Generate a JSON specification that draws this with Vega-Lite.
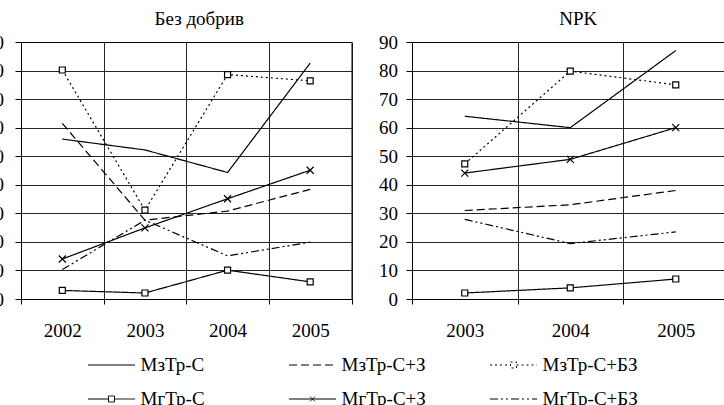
{
  "$schema": "https://vega.github.io/schema/vega-lite/v6.json",
  "autosize": {"type": "pad"},
  "padding": {"left": -16, "top": 9, "right": 0, "bottom": 0},
  "bounds": "flush",
  "spacing": 60,
  "config": {
    "font": "Liberation Serif",
    "view": {"stroke": "black", "strokeWidth": 1},
    "axis": {
      "labelFont": "Liberation Serif",
      "labelFontSize": 19,
      "labelColor": "black",
      "domainColor": "black",
      "tickColor": "black",
      "gridColor": "black",
      "gridOpacity": 0.85,
      "title": null
    },
    "legend": {
      "orient": "none", "legendX": 66.5, "legendY": 299, "columns": 3, "direction": "horizontal",
      "symbolSize": 2209, "symbolStrokeWidth": 1, "symbolStrokeColor": "black", "symbolFillColor": "white",
      "labelFont": "Liberation Serif", "labelFontSize": 19, "labelColor": "black", "labelOffset": 5, "labelLimit": 0,
      "columnPadding": 50, "rowPadding": -16.5, "gridAlign": "all"
    }
  },
  "data": {
    "values": [
      {"panel": "Без добрив", "year": "2002", "series": "МзТр-С", "value": 56},
      {"panel": "Без добрив", "year": "2003", "series": "МзТр-С", "value": 52.2},
      {"panel": "Без добрив", "year": "2004", "series": "МзТр-С", "value": 44.3},
      {"panel": "Без добрив", "year": "2005", "series": "МзТр-С", "value": 82.6},
      {"panel": "Без добрив", "year": "2002", "series": "МзТр-С+З", "value": 61.5},
      {"panel": "Без добрив", "year": "2003", "series": "МзТр-С+З", "value": 27.6},
      {"panel": "Без добрив", "year": "2004", "series": "МзТр-С+З", "value": 30.8},
      {"panel": "Без добрив", "year": "2005", "series": "МзТр-С+З", "value": 38.4},
      {"panel": "Без добрив", "year": "2002", "series": "МзТр-С+БЗ", "value": 80.2},
      {"panel": "Без добрив", "year": "2003", "series": "МзТр-С+БЗ", "value": 31.1},
      {"panel": "Без добрив", "year": "2004", "series": "МзТр-С+БЗ", "value": 78.6},
      {"panel": "Без добрив", "year": "2005", "series": "МзТр-С+БЗ", "value": 76.4},
      {"panel": "Без добрив", "year": "2002", "series": "МгТр-С", "value": 3.0},
      {"panel": "Без добрив", "year": "2003", "series": "МгТр-С", "value": 2.1},
      {"panel": "Без добрив", "year": "2004", "series": "МгТр-С", "value": 10.1},
      {"panel": "Без добрив", "year": "2005", "series": "МгТр-С", "value": 6.0},
      {"panel": "Без добрив", "year": "2002", "series": "МгТр-С+З", "value": 14.0},
      {"panel": "Без добрив", "year": "2003", "series": "МгТр-С+З", "value": 24.9},
      {"panel": "Без добрив", "year": "2004", "series": "МгТр-С+З", "value": 35.1},
      {"panel": "Без добрив", "year": "2005", "series": "МгТр-С+З", "value": 45.1},
      {"panel": "Без добрив", "year": "2002", "series": "МгТр-С+БЗ", "value": 10.3},
      {"panel": "Без добрив", "year": "2003", "series": "МгТр-С+БЗ", "value": 27.6},
      {"panel": "Без добрив", "year": "2004", "series": "МгТр-С+БЗ", "value": 15.1},
      {"panel": "Без добрив", "year": "2005", "series": "МгТр-С+БЗ", "value": 19.9},
      {"panel": "NPK", "year": "2003", "series": "МзТр-С", "value": 64},
      {"panel": "NPK", "year": "2004", "series": "МзТр-С", "value": 60},
      {"panel": "NPK", "year": "2005", "series": "МзТр-С", "value": 87},
      {"panel": "NPK", "year": "2003", "series": "МзТр-С+З", "value": 31},
      {"panel": "NPK", "year": "2004", "series": "МзТр-С+З", "value": 33},
      {"panel": "NPK", "year": "2005", "series": "МзТр-С+З", "value": 38},
      {"panel": "NPK", "year": "2003", "series": "МзТр-С+БЗ", "value": 47.3},
      {"panel": "NPK", "year": "2004", "series": "МзТр-С+БЗ", "value": 79.8},
      {"panel": "NPK", "year": "2005", "series": "МзТр-С+БЗ", "value": 75},
      {"panel": "NPK", "year": "2003", "series": "МгТр-С", "value": 2.1},
      {"panel": "NPK", "year": "2004", "series": "МгТр-С", "value": 3.9},
      {"panel": "NPK", "year": "2005", "series": "МгТр-С", "value": 7},
      {"panel": "NPK", "year": "2003", "series": "МгТр-С+З", "value": 44.1},
      {"panel": "NPK", "year": "2004", "series": "МгТр-С+З", "value": 48.9},
      {"panel": "NPK", "year": "2005", "series": "МгТр-С+З", "value": 60},
      {"panel": "NPK", "year": "2003", "series": "МгТр-С+БЗ", "value": 27.9},
      {"panel": "NPK", "year": "2004", "series": "МгТр-С+БЗ", "value": 19.4},
      {"panel": "NPK", "year": "2005", "series": "МгТр-С+БЗ", "value": 23.5}
    ]
  },
  "hconcat": [
    {
      "width": 330.5,
      "height": 257,
      "title": {"text": "Без добрив", "frame": "group", "fontSize": 19, "fontWeight": "normal", "font": "Liberation Serif", "color": "black", "baseline": "alphabetic", "offset": -11, "dx": 13},
      "transform": [{"filter": {"field": "panel", "equal": "Без добрив"}}],
      "encoding": {
        "x": {"field": "year", "type": "ordinal", "bandPosition": 0.5,
          "scale": {"type": "band", "paddingInner": 0, "paddingOuter": 0},
          "axis": {"tickBand": "extent", "grid": true, "labelAngle": 0, "tickSize": 5, "labelPadding": 17, "labelFont": "Liberation Serif"}},
        "y": {"field": "value", "type": "quantitative",
          "scale": {"domain": [0, 90], "nice": false},
          "axis": {"values": [0, 10, 20, 30, 40, 50, 60, 70, 80, 90], "grid": true, "tickSize": 6, "labelPadding": 11.5, "labelFont": "Liberation Serif"}}
      },
      "layer": [
        {
          "mark": {"type": "line", "color": "black", "strokeWidth": 1.2},
          "encoding": {
            "strokeDash": {"field": "series", "type": "nominal",
              "scale": {"domain": ["МзТр-С", "МзТр-С+З", "МзТр-С+БЗ", "МгТр-С", "МгТр-С+З", "МгТр-С+БЗ"],
                "range": [[1, 0], [8, 4], [2, 3], [1, 0], [1, 0], [8, 3, 2, 3, 2, 3]]},
              "legend": {"title": null}}
          }
        },
        {
          "transform": [{"filter": {"field": "series", "oneOf": ["МгТр-С", "МзТр-С+БЗ"]}}],
          "mark": {"type": "point", "shape": "square", "size": 36, "filled": true, "fill": "white", "stroke": "black", "strokeWidth": 1.2, "opacity": 1}
        },
        {
          "transform": [{"filter": {"field": "series", "equal": "МгТр-С+З"}}],
          "mark": {"type": "point", "shape": "M-1,-1L1,1M1,-1L-1,1", "size": 49, "filled": false, "stroke": "black", "strokeWidth": 1.2, "opacity": 1}
        },
        {
          "mark": {"type": "point", "filled": false, "stroke": "black", "strokeWidth": 1, "strokeOpacity": 0, "fillOpacity": 0, "opacity": 1},
          "encoding": {
            "shape": {"field": "series", "type": "nominal",
              "scale": {"domain": ["МзТр-С", "МзТр-С+З", "МзТр-С+БЗ", "МгТр-С", "МгТр-С+З", "МгТр-С+БЗ"],
                "range": [
                  "M-1,0H1",
                  "M-1,0H1",
                  "M-1,0H-0.128M0.128,0H1M-0.128,-0.128H0.128V0.128H-0.128Z",
                  "M-1,0H-0.128M0.128,0H1M-0.128,-0.128H0.128V0.128H-0.128Z",
                  "M-1,0H1M-0.1,-0.1L0.1,0.1M0.1,-0.1L-0.1,0.1",
                  "M-1,0H1"
                ]},
              "legend": {"title": null}},
            "strokeDash": {"field": "series", "type": "nominal",
              "scale": {"domain": ["МзТр-С", "МзТр-С+З", "МзТр-С+БЗ", "МгТр-С", "МгТр-С+З", "МгТр-С+БЗ"],
                "range": [[1, 0], [8, 4], [2, 3], [1, 0], [1, 0], [8, 3, 2, 3, 2, 3]]},
              "legend": {"title": null}}
          }
        }
      ]
    },
    {
      "width": 316.5,
      "height": 257,
      "title": {"text": "NPK", "frame": "group", "fontSize": 19, "fontWeight": "normal", "font": "Liberation Serif", "color": "black", "baseline": "alphabetic", "offset": -11, "dx": 8},
      "transform": [{"filter": {"field": "panel", "equal": "NPK"}}],
      "encoding": {
        "x": {"field": "year", "type": "ordinal", "bandPosition": 0.5,
          "scale": {"type": "band", "paddingInner": 0, "paddingOuter": 0},
          "axis": {"tickBand": "extent", "grid": true, "labelAngle": 0, "tickSize": 5, "labelPadding": 17, "labelFont": "Liberation Serif"}},
        "y": {"field": "value", "type": "quantitative",
          "scale": {"domain": [0, 90], "nice": false},
          "axis": {"values": [0, 10, 20, 30, 40, 50, 60, 70, 80, 90], "grid": true, "tickSize": 6, "labelPadding": 8.5, "labelFont": "Liberation Serif"}}
      },
      "layer": [
        {
          "mark": {"type": "line", "color": "black", "strokeWidth": 1.2},
          "encoding": {
            "strokeDash": {"field": "series", "type": "nominal",
              "scale": {"domain": ["МзТр-С", "МзТр-С+З", "МзТр-С+БЗ", "МгТр-С", "МгТр-С+З", "МгТр-С+БЗ"],
                "range": [[1, 0], [8, 4], [2, 3], [1, 0], [1, 0], [8, 3, 2, 3, 2, 3]]},
              "legend": {"title": null}}
          }
        },
        {
          "transform": [{"filter": {"field": "series", "oneOf": ["МгТр-С", "МзТр-С+БЗ"]}}],
          "mark": {"type": "point", "shape": "square", "size": 36, "filled": true, "fill": "white", "stroke": "black", "strokeWidth": 1.2, "opacity": 1}
        },
        {
          "transform": [{"filter": {"field": "series", "equal": "МгТр-С+З"}}],
          "mark": {"type": "point", "shape": "M-1,-1L1,1M1,-1L-1,1", "size": 49, "filled": false, "stroke": "black", "strokeWidth": 1.2, "opacity": 1}
        }
      ]
    }
  ]
}
